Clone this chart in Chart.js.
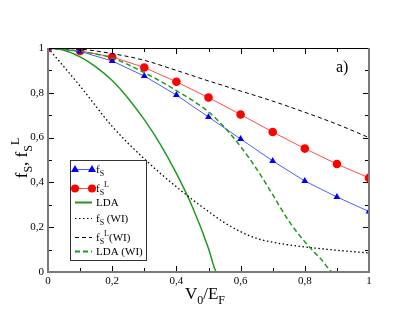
<!DOCTYPE html>
<html><head><meta charset="utf-8">
<script src="https://cdn.jsdelivr.net/npm/chart.js@4/dist/chart.umd.min.js"></script>
<style>html,body{margin:0;padding:0;background:#fff}#wrap{width:415px;height:321px}</style>
</head><body><div id="wrap"><canvas id="c" width="415" height="321"></canvas></div>
<script>
// ---- data ----
const X_MAIN = [0,0.1,0.2,0.3,0.4,0.5,0.6,0.7,0.8,0.9,1.0];
const FS = [1,0.985,0.942,0.875,0.79,0.692,0.594,0.496,0.406,0.335,0.27];
const FSL = [1,0.987,0.96,0.913,0.849,0.779,0.703,0.625,0.551,0.482,0.42];
const X_LDA = [0,0.05,0.1,0.15,0.2,0.25,0.3,0.35,0.4,0.45,0.5,0.52,0.525,0.55];
const LDA = [1,0.99,0.96,0.915,0.855,0.775,0.68,0.57,0.44,0.29,0.105,0.012,0,0];
const X_WI = [0,0.1,0.2,0.3,0.4,0.5,0.55,0.6,0.65,0.7,0.8,0.9,1.0];
const FS_WI = [1,0.83,0.65,0.505,0.38,0.27,0.22,0.18,0.15,0.133,0.112,0.097,0.085];
const X_WIL = [0,0.1,0.2,0.3,0.4,0.5,0.6,0.7,0.8,0.9,1.0];
const FSL_WI = [1,0.995,0.975,0.945,0.9,0.853,0.808,0.763,0.713,0.66,0.6];
const X_LDAWI = [0,0.1,0.2,0.3,0.4,0.5,0.55,0.6,0.65,0.7,0.75,0.8,0.85,0.89,0.92];
const LDA_WI = [1,0.985,0.955,0.89,0.81,0.715,0.645,0.56,0.46,0.345,0.228,0.135,0.058,0,0];
const X_TICKS = [0,0.2,0.4,0.6,0.8,1];
const Y_TICKS = [0,0.2,0.4,0.6,0.8,1];

const pts = (xs, ys) => xs.map((x,i)=>({x, y: ys[i]}));
const fmt = v => { const r = Math.round(v*10)/10; return r===0?'0':(r===1?'1':String(r).replace('.',',')); };
const SERIF = '"Liberation Serif", "DejaVu Serif", serif';
const GREEN = '#1f9a1f';

function drawRich(ctx, parts, x, y, size, align) {
  const small = Math.round(size*0.7);
  let w = 0;
  parts.forEach(([t,m]) => { ctx.font = (m==='n'?size:small)+'px '+SERIF; w += ctx.measureText(t).width; });
  let cx = align==='center' ? x - w/2 : x;
  ctx.textBaseline = 'alphabetic'; ctx.textAlign = 'left';
  parts.forEach(([t,m]) => {
    ctx.font = (m==='n'?size:small)+'px '+SERIF;
    let dy = m==='sub' ? size*0.3 : (m==='sup' ? -size*0.45 : 0);
    ctx.fillText(t, cx, y+dy);
    cx += ctx.measureText(t).width;
  });
}

const decor = {
  id:'decor',
  afterDatasetsDraw(chart) {
    const ctx = chart.ctx, a = chart.chartArea;
    const xs = chart.scales.x, ys = chart.scales.y;
    ctx.save();
    ctx.strokeStyle = '#000'; ctx.lineWidth = 1;
    for (let i=0;i<=10;i++) {
      const v = i/10, major = i%2===0, L = major?6:4;
      const px = Math.round(xs.getPixelForValue(v))+0.5;
      const py = Math.round(ys.getPixelForValue(v))+0.5;
      ctx.beginPath();
      ctx.moveTo(px, a.bottom); ctx.lineTo(px, a.bottom-L);
      ctx.moveTo(px, a.top); ctx.lineTo(px, a.top+L);
      ctx.moveTo(a.left, py); ctx.lineTo(a.left+L, py);
      ctx.moveTo(a.right, py); ctx.lineTo(a.right-L, py);
      ctx.stroke();
    }
    ctx.strokeStyle = '#000'; ctx.lineWidth = 1;
    ctx.beginPath(); ctx.moveTo(a.left, a.top+0.5); ctx.lineTo(a.right, a.top+0.5); ctx.stroke();
    ctx.strokeStyle = '#7a7a7a'; ctx.lineWidth = 2;
    ctx.beginPath();
    ctx.moveTo(a.left, a.top); ctx.lineTo(a.left, a.bottom); ctx.lineTo(a.right, a.bottom); ctx.lineTo(a.right, a.top);
    ctx.stroke();
    // legend
    const bx=70.5, by=160.5, bw=76, bh=100;
    ctx.fillStyle='#fff'; ctx.fillRect(bx,by,bw,bh);
    ctx.strokeStyle='#333'; ctx.lineWidth=1; ctx.strokeRect(bx,by,bw,bh);
    const rows = [
      {y:169, color:'#0000ff', lc:'#4a5cff', dash:[], mark:'tri', parts:[['f','n'],['S','sub']]},
      {y:188, color:'#ff0000', lc:'#ff4a4a', dash:[], mark:'circ', parts:[['f','n'],['S','sub'],['L','sup']]},
      {y:202, color:GREEN, dash:[], w:2, parts:[['LDA','n']]},
      {y:218, color:'#000', dash:[1.5,2.5], parts:[['f','n'],['S','sub'],[' (WI)','n']]},
      {y:237, color:'#000', dash:[4,3], parts:[['f','n'],['S','sub'],['L','sup'],['(WI)','n']]},
      {y:251, color:GREEN, dash:[5,3], w:2, parts:[['LDA (WI)','n']]},
    ];
    rows.forEach(r => {
      ctx.strokeStyle=r.lc||r.color; ctx.lineWidth=r.w||1; ctx.setLineDash(r.dash);
      ctx.beginPath(); ctx.moveTo(75, r.y+0.5); ctx.lineTo(92, r.y+0.5); ctx.stroke();
      ctx.setLineDash([]);
      ctx.fillStyle=r.color;
      [75,92].forEach(mx => {
        if (r.mark==='tri') { ctx.beginPath(); ctx.moveTo(mx, r.y-4); ctx.lineTo(mx+4, r.y+3); ctx.lineTo(mx-4, r.y+3); ctx.closePath(); ctx.fill(); }
        if (r.mark==='circ') { ctx.beginPath(); ctx.arc(mx, r.y+0.5, 4, 0, Math.PI*2); ctx.fill(); }
      });
      ctx.fillStyle='#000';
      drawRich(ctx, r.parts, 96, r.y+4, 11, 'left');
    });
    ctx.fillStyle='#000';
    drawRich(ctx, [['a)','n']], 336, 72, 16, 'left');
    drawRich(ctx, [['V','n'],['0','sub'],['/E','n'],['F','sub']], 205, 299, 17, 'center');
    ctx.translate(27, 158); ctx.rotate(-Math.PI/2);
    drawRich(ctx, [['f','n'],['S','sub'],[', f','n'],['S','sub'],['L','sup']], 0, 0, 17, 'center');
    ctx.restore();
  }
};

const tickFont = {family: SERIF, size: 11};
new Chart(document.getElementById('c'), {
  type: 'line',
  data: { datasets: [
    {data: pts(X_LDAWI, LDA_WI), borderColor: GREEN, borderWidth: 1.5, borderDash:[5,3], pointRadius:0, cubicInterpolationMode:'monotone', fill:false},
    {data: pts(X_WIL, FSL_WI), borderColor: '#000', borderWidth: 1, borderDash:[4,3], pointRadius:0, cubicInterpolationMode:'monotone', fill:false},
    {data: pts(X_WI, FS_WI), borderColor: '#000', borderWidth: 1.3, borderDash:[1.5,2.5], pointRadius:0, cubicInterpolationMode:'monotone', fill:false},
    {data: pts(X_LDA, LDA), borderColor: GREEN, borderWidth: 1.5, pointRadius:0, cubicInterpolationMode:'monotone', fill:false},
    {data: pts(X_MAIN, FS), borderColor: '#4a5cff', backgroundColor:'#0000ff', borderWidth: 1, pointStyle:'triangle', pointRadius:4, pointBorderWidth:0, pointBackgroundColor:'#0000ff', tension:0, fill:false},
    {data: pts(X_MAIN, FSL), borderColor: '#ff4a4a', backgroundColor:'#ff0000', borderWidth: 1, pointStyle:'circle', pointRadius:4.3, pointBorderWidth:0, pointBackgroundColor:'#ff0000', tension:0, fill:false},
  ]},
  options: {
    responsive:false, animation:false, devicePixelRatio:1,
    layout: {padding: {top:48, right:46, left:0, bottom:0}},
    plugins: {legend:{display:false}, tooltip:{enabled:false}},
    scales: {
      x: {type:'linear', min:0, max:1, grid:{display:false, drawTicks:false}, border:{display:false},
          afterBuildTicks: s => { s.ticks = X_TICKS.map(v=>({value:v})); },
          afterFit: s => { s.height = 49; },
          ticks:{callback: v=>fmt(v), font: tickFont, color:'#000', padding:3, maxRotation:0, autoSkip:false}},
      y: {type:'linear', min:0, max:1, grid:{display:false, drawTicks:false}, border:{display:false},
          afterBuildTicks: s => { s.ticks = Y_TICKS.map(v=>({value:v})); },
          afterFit: s => { s.width = 48; },
          ticks:{callback: v=>fmt(v), font: tickFont, color:'#000', padding:4, autoSkip:false}}
    }
  },
  plugins:[decor]
});
</script></body></html>
